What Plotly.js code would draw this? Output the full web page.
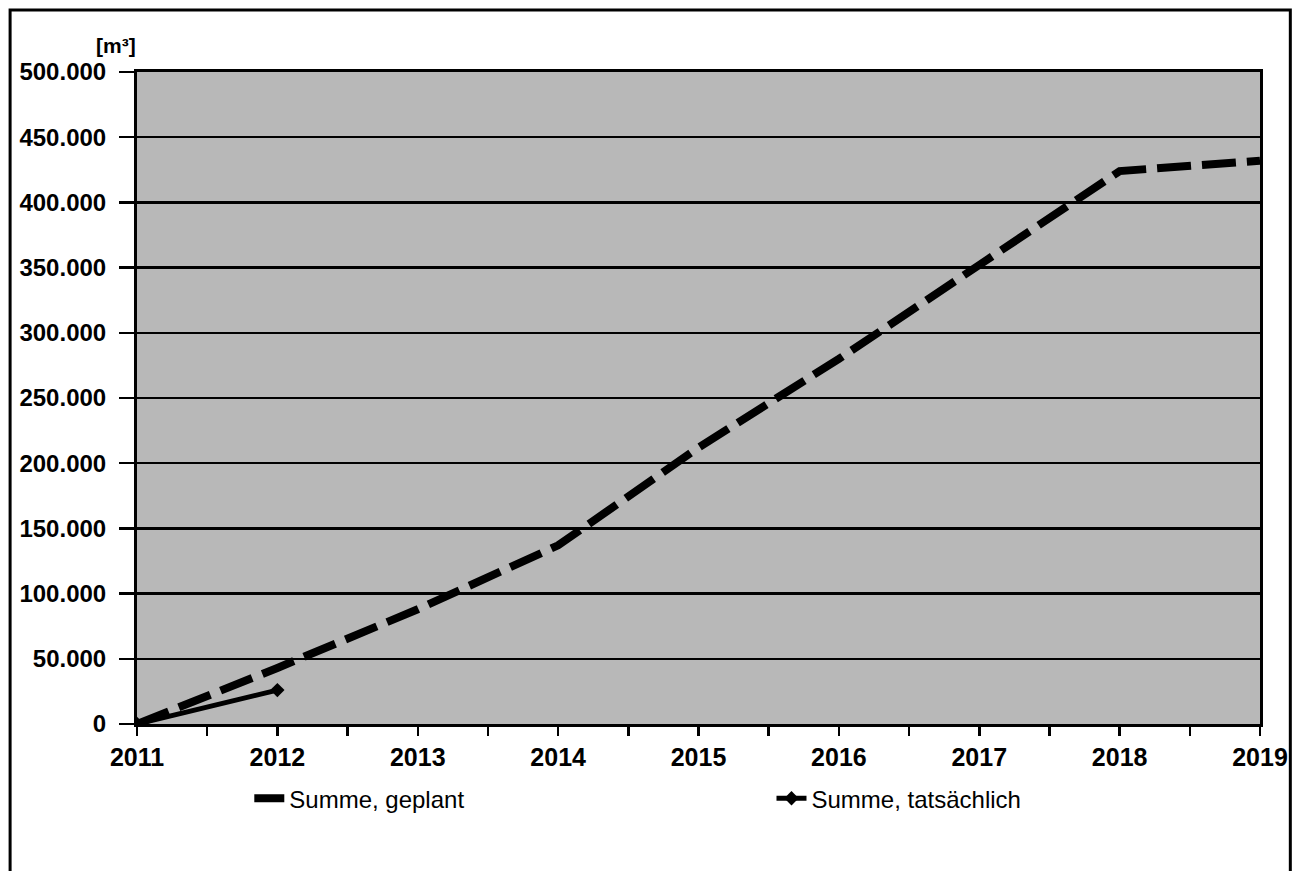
<!DOCTYPE html>
<html><head><meta charset="utf-8">
<script src="https://cdn.plot.ly/plotly-3.0.1.min.js"></script>
<style>body{margin:0;background:#fff}#c{width:1293px;height:871px}</style>
</head><body><div id="c"></div>
<script>
const years = [2011, 2012, 2013, 2014, 2015, 2016, 2017, 2018, 2019];
const plannedSum = [0, 43000, 88000, 137000, 212000, 280000, 352000, 424000, 432000];
const actualYears = [2011, 2012];
const actualSum = [0, 26000];
const yTicks = [0, 50000, 100000, 150000, 200000, 250000, 300000, 350000, 400000, 450000, 500000];
const xTickVals = [];
const xTickText = [];
for (let y = 2011; y <= 2019; y += 0.5) { xTickVals.push(y); xTickText.push(Number.isInteger(y) ? String(y) : ''); }
const labelPlanned = 'Summe, geplant';
const labelActual = 'Summe, tatsächlich';
const unitLabel = '[m³]';

const FONT = 'Liberation Sans, Arial, sans-serif';
const traces = [
  {x: years, y: plannedSum, name: labelPlanned, mode: 'lines', type: 'scatter',
   line: {color: '#000', width: 8, dash: '34px,11px'}, legend: 'legend'},
  {x: actualYears, y: actualSum, name: labelActual, mode: 'lines+markers', type: 'scatter',
   line: {color: '#000', width: 5}, marker: {symbol: 'diamond', size: 11, color: '#000'}, legend: 'legend2'}
];
const layout = {
  width: 1293, height: 871,
  margin: {l: 137, r: 33, t: 72, b: 147},
  paper_bgcolor: '#fff', plot_bgcolor: '#b8b8b8',
  separators: ',.',
  font: {family: FONT, color: '#000'},
  xaxis: {range: [2011, 2019], tickmode: 'array', tickvals: xTickVals, ticktext: xTickText,
    ticks: 'outside', ticklen: 9, tickwidth: 2.5, tickcolor: '#000', ticklabelstandoff: 0,
    showgrid: false, zeroline: false, showline: true, linewidth: 3, linecolor: '#000', mirror: true,
    tickfont: {size: 25, family: FONT, weight: 'bold'}},
  yaxis: {range: [0, 500000], tickmode: 'array', tickvals: yTicks, tickformat: ',d',
    ticks: 'outside', ticklen: 15, tickwidth: 2.5, tickcolor: '#000', ticklabelstandoff: 8,
    showgrid: true, gridcolor: '#000', gridwidth: 2.5, zeroline: false,
    showline: true, linewidth: 3, linecolor: '#000', mirror: true,
    tickfont: {size: 24, family: FONT, weight: 'bold'}},
  legend: {x: 0.1, y: -0.08, xanchor: 'left', yanchor: 'top', orientation: 'h',
    font: {size: 24, family: FONT}, bgcolor: 'rgba(0,0,0,0)'},
  legend2: {x: 0.565, y: -0.08, xanchor: 'left', yanchor: 'top', orientation: 'h',
    font: {size: 24, family: FONT}, bgcolor: 'rgba(0,0,0,0)'},
  showlegend: true,
  annotations: [{xref: 'paper', yref: 'paper', x: -0.019, y: 1.02, xanchor: 'center', yanchor: 'bottom',
    text: '<b>' + unitLabel + '</b>', showarrow: false, font: {size: 21, family: FONT}}],
  shapes: [{type: 'rect', xref: 'paper', yref: 'paper', x0: -0.113, x1: 1.027, y0: -0.3, y1: 1.095,
    line: {color: '#000', width: 3}, fillcolor: 'rgba(0,0,0,0)', layer: 'below'}]
};
Plotly.newPlot('c', traces, layout, {displayModeBar: false, staticPlot: true});
</script></body></html>
